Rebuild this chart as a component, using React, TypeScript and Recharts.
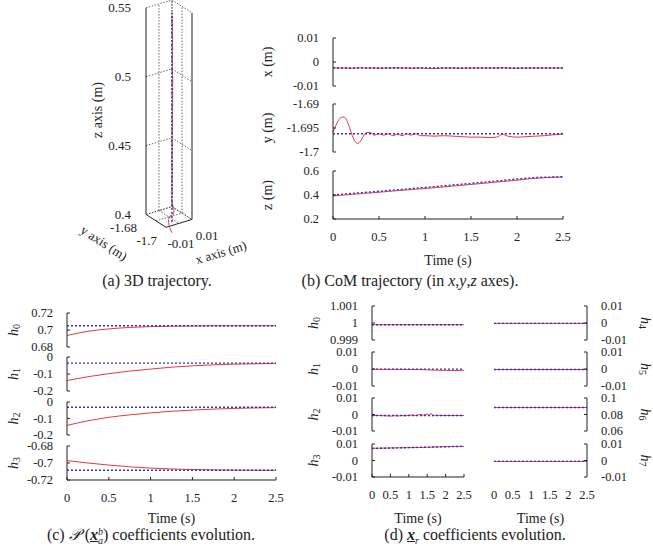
import React from "react";
import { LineChart, Line, XAxis, YAxis } from "recharts";

const FONT = "'Liberation Serif', 'Times New Roman', Times, serif";
const INK = "#222";
const RED = "#e8373c";
const BLUE = "#3030cc";
const GRID = "#444";
const TICK_SIZE = 12.5;

const TIME_TICKS = [0, 0.5, 1, 1.5, 2, 2.5];

// (b) CoM trajectory, measured
const COM_T = [0, 0.03, 0.06, 0.09, 0.12, 0.15, 0.18, 0.21, 0.24, 0.27, 0.3, 0.33, 0.36, 0.4, 0.45, 0.5, 0.55, 0.6, 0.65, 0.7, 0.75, 0.8, 0.85, 0.9, 0.95, 1.0, 1.1, 1.2, 1.3, 1.4, 1.5, 1.6, 1.7, 1.78, 1.84, 1.9, 2.0, 2.1, 2.2, 2.3, 2.4, 2.5];
const COM_X = [
  -0.0024, -0.0024, -0.0025, -0.0025, -0.0025,
  -0.0025, -0.0026, -0.0026, -0.0025, -0.0025,
  -0.0024, -0.0025, -0.0025, -0.0025, -0.0025,
  -0.0026, -0.0025, -0.0025, -0.0025, -0.0024,
  -0.0025, -0.0025, -0.0026, -0.0025, -0.0025,
  -0.0026, -0.0027, -0.0025, -0.0025, -0.0026,
  -0.0025, -0.0025, -0.0025, -0.0025, -0.0024,
  -0.0025, -0.0026, -0.0025, -0.0025, -0.0025,
  -0.0025, -0.0025,
];
const COM_Y = [
  -1.6958, -1.6945, -1.6934, -1.6928, -1.6927,
  -1.6934, -1.6949, -1.6966, -1.6978, -1.6982,
  -1.6977, -1.6967, -1.696, -1.6959, -1.6965,
  -1.6962, -1.6965, -1.6962, -1.6966, -1.6963,
  -1.6966, -1.6962, -1.6965, -1.6962, -1.6966,
  -1.6966, -1.6967, -1.6966, -1.6967, -1.6968,
  -1.6969, -1.6969, -1.697, -1.6969, -1.6963,
  -1.6967, -1.6969, -1.6968, -1.6967, -1.6966,
  -1.6964, -1.6963,
];
const COM_Z = [
  0.392, 0.394, 0.396, 0.398, 0.4,
  0.402, 0.404, 0.405, 0.407, 0.409,
  0.411, 0.413, 0.415, 0.417, 0.42,
  0.423, 0.426, 0.43, 0.433, 0.436,
  0.439, 0.442, 0.445, 0.448, 0.451,
  0.454, 0.461, 0.467, 0.474, 0.481,
  0.488, 0.495, 0.502, 0.508, 0.512,
  0.516, 0.524, 0.532, 0.539, 0.544,
  0.548, 0.55,
];
// (b) CoM trajectory, reference
const COM_REF_T = [0, 0.5, 1, 1.5, 2, 2.2, 2.5];
const COM_X_REF = [-0.0025, -0.0025, -0.0025, -0.0025, -0.0025, -0.0025, -0.0025];
const COM_Y_REF = [-1.6962, -1.6962, -1.6962, -1.6962, -1.6962, -1.6962, -1.6962];
const COM_Z_REF = [0.4, 0.431, 0.463, 0.497, 0.533, 0.546, 0.552];

const X_TICKS_B = [-0.01, 0, 0.01];
const Y_TICKS_B = [-1.7, -1.695, -1.69];
const Z_TICKS_B = [0.2, 0.4, 0.6];

// (a) 3D box
const X3_RANGE = [-0.01, 0.01];
const Y3_RANGE = [-1.68, -1.7];
const X3_TICKS = [-0.01, 0, 0.01];
const Y3_TICKS = [-1.68, -1.69, -1.7];
const Z3_TICKS = [0.4, 0.45, 0.5, 0.55];
const X3_LABELS = [-0.01, 0.01];
const Y3_LABELS = [-1.68, -1.7];

// (c) P(x) coefficients
const P_T = [0, 0.25, 0.5, 0.75, 1, 1.25, 1.5, 1.75, 2, 2.25, 2.5];
const REF_T = [0, 2.5];
const PH0 = [0.6935, 0.6985, 0.7013, 0.703, 0.704, 0.7045, 0.7047, 0.7048, 0.7049, 0.7049, 0.705];
const PH0_REF = [0.705, 0.705];
const PH1 = [-0.138, -0.116, -0.098, -0.083, -0.071, -0.06, -0.052, -0.046, -0.042, -0.04, -0.038];
const PH1_REF = [-0.036, -0.036];
const PH2 = [-0.142, -0.114, -0.093, -0.078, -0.066, -0.056, -0.049, -0.043, -0.039, -0.036, -0.034];
const PH2_REF = [-0.032, -0.032];
const PH3 = [-0.6972, -0.7, -0.7024, -0.7045, -0.706, -0.707, -0.7077, -0.7081, -0.7084, -0.7085, -0.7086];
const PH3_REF = [-0.7086, -0.7086];

// (d) x_r coefficients
const D2_T = [0, 0.2, 0.4, 0.5, 0.6, 0.7, 0.8, 0.9, 1.0, 1.1, 1.2, 1.3, 1.4, 1.5, 1.55, 1.6, 1.65, 1.7, 1.8, 2.0, 2.2, 2.5];
const DH0 = [0.9999, 0.9999];
const DH0_REF = [0.9999, 0.9999];
const DH1 = [-0.0002, -0.0002, -0.0002, -0.0002, -0.0003, -0.0003, -0.0005, -0.0007, -0.0008, -0.0009, -0.0007];
const DH1_REF = [-0.0001, -0.0001];
const DH2 = [-0.0006, -0.0006, -0.0008, -0.001, -0.0007, -0.0009, -0.0006, -0.0008, -0.0005, -0.0003, -0.0007, 0.0001, -0.0004, 0.0003, -0.0006, 0.0008, -0.0008, -0.0004, -0.0006, -0.0006, -0.0006, -0.0006];
const DH2_REF = [-0.0006, -0.0006];
const DH3 = [0.0074, 0.0075, 0.0076, 0.0077, 0.0078, 0.0079, 0.008, 0.0082, 0.0084, 0.0085, 0.0086];
const DH3_REF = [0.0073, 0.0086];
const DH4 = [-0.0002, -0.0002];
const DH5 = [-0.0003, -0.0003];
const DH6 = [0.0885, 0.0885];
const DH7 = [-0.0005, -0.0005];

const H1_TICKS = [0.999, 1, 1.001];
const SMALL_TICKS = [-0.01, 0, 0.01];
const H6_TICKS = [0.06, 0.08, 0.1];

type Pt = { t: number; v: number };
const pts = (ts: number[], vs: number[]): Pt[] => ts.map((t, i) => ({ t, v: vs[i] }));

const hTitle = (n: number) => [
  <tspan key="h" fontStyle="italic">h</tspan>,
  <tspan key="n" fontSize={10} dy={3}>{n}</tspan>,
];

type StripProps = {
  left: number;
  top: number;
  width: number;
  height: number;
  domain: [number, number];
  ticks: number[];
  act: Pt[];
  refLine: Pt[];
  side?: "left" | "right";
  title: React.ReactNode;
  titleGap: number;
  titleAngle?: number;
  timeAxis?: "line" | "bare";
  timeGap?: number;
};

function Strip({ left, top, width, height, domain, ticks, act, refLine, side = "left", title, titleGap, titleAngle = -90, timeAxis, timeGap = 40 }: StripProps) {
  const padL = side === "left" ? 90 : 20;
  const padR = side === "right" ? 90 : 20;
  const padT = 10;
  const padB = 60;
  const tickStyle = { fontSize: TICK_SIZE, fill: INK, fontFamily: FONT };
  return (
    <div style={{ position: "absolute", left: left - padL, top: top - padT }}>
      <LineChart
        width={padL + width + padR}
        height={padT + height + padB}
        margin={{ top: padT, bottom: timeAxis ? 0 : padB, left: side === "left" ? 0 : padL, right: side === "right" ? 0 : padR }}
      >
        <XAxis
          type="number"
          dataKey="t"
          domain={[0, 2.5]}
          ticks={TIME_TICKS}
          interval={0}
          hide={!timeAxis}
          height={padB}
          axisLine={timeAxis === "line" ? { stroke: INK } : false}
          tickLine={timeAxis === "line" ? { stroke: INK } : false}
          tickSize={-3}
          tickMargin={16}
          tick={tickStyle}
          label={(p: any) => (
            <text x={p.viewBox.x + p.viewBox.width / 2} y={p.viewBox.y + timeGap} textAnchor="middle" dominantBaseline="central" fontFamily={FONT} fontSize={14} fill={INK}>
              Time (s)
            </text>
          )}
        />
        <YAxis
          type="number"
          orientation={side}
          width={side === "left" ? padL : padR}
          domain={domain}
          ticks={ticks}
          interval={0}
          allowDataOverflow
          axisLine={{ stroke: INK }}
          tickLine={{ stroke: INK }}
          tickSize={-3}
          tickMargin={17}
          tick={tickStyle}
          label={(p: any) => {
            const vb = p.viewBox;
            const cx = side === "left" ? vb.x + vb.width - titleGap : vb.x + titleGap;
            const cy = vb.y + vb.height / 2;
            return (
              <text x={cx} y={cy} transform={`rotate(${titleAngle} ${cx} ${cy})`} textAnchor="middle" dominantBaseline="central" fontFamily={FONT} fontSize={14} fill={INK}>
                {title}
              </text>
            );
          }}
        />
        <Line data={act} dataKey="v" type="monotone" stroke={RED} strokeWidth={1} dot={false} isAnimationActive={false} />
        <Line data={refLine} dataKey="v" stroke={BLUE} strokeWidth={1.4} strokeDasharray="2 2" dot={false} isAnimationActive={false} />
      </LineChart>
    </div>
  );
}

// simple oblique camera for the 3D box (screen px per full box length)
const CAM = { ux: 26, uy: 20, vx: -8, vy: 13, zScale: 1400 };

function project(x: number, y: number, z: number) {
  const nx = (x - X3_RANGE[0]) / (X3_RANGE[1] - X3_RANGE[0]);
  const ny = (y - Y3_RANGE[0]) / (Y3_RANGE[1] - Y3_RANGE[0]);
  return { u: CAM.ux * nx + CAM.uy * ny, v: z - (CAM.vx * nx + CAM.vy * ny) / CAM.zScale };
}

function buildEdges() {
  const [x0, x1] = X3_RANGE;
  const [y0, y1] = Y3_RANGE;
  const z0 = Z3_TICKS[0];
  const zTop = Z3_TICKS[Z3_TICKS.length - 1];
  const seg = (a: number[], b: number[], solid = false) => ({
    pts: [project(a[0], a[1], a[2]), project(b[0], b[1], b[2])],
    solid,
  });
  const edges: { pts: { u: number; v: number }[]; solid: boolean }[] = [];
  Z3_TICKS.forEach((z) => {
    edges.push(seg([x0, y0, z], [x1, y0, z]));
    edges.push(seg([x1, y0, z], [x1, y1, z]));
  });
  X3_TICKS.forEach((x) => {
    edges.push(seg([x, y0, z0], [x, y0, zTop], x === x0));
    edges.push(seg([x, y0, z0], [x, y1, z0], x === x0));
  });
  Y3_TICKS.forEach((y) => {
    edges.push(seg([x1, y, z0], [x1, y, zTop], y === y1));
    edges.push(seg([x0, y, z0], [x1, y, z0], y === y1));
  });
  return edges;
}

const textDot = (dx: number, dy: number, anchor: "start" | "middle" | "end", angle = 0) => (p: any) => {
  const x = p.cx + dx;
  const y = p.cy + dy;
  return (
    <text key={`t${p.index}`} x={x} y={y} textAnchor={anchor} dominantBaseline="central" transform={angle ? `rotate(${angle} ${x} ${y})` : undefined} fontFamily={FONT} fontSize={13} fill={INK}>
      {p.payload.label}
    </text>
  );
};

function Trajectory3D() {
  const edges = buildEdges();
  const act = COM_T.map((_, i) => project(COM_X[i], COM_Y[i], COM_Z[i]));
  const ref = COM_REF_T.map((_, i) => project(COM_X_REF[i], COM_Y_REF[i], COM_Z_REF[i]));
  const z0 = Z3_TICKS[0];
  const yLab = Y3_LABELS.map((y) => ({ ...project(X3_RANGE[0], y, z0), label: String(y) }));
  const xLab = X3_LABELS.map((x) => ({ ...project(x, Y3_RANGE[1], z0), label: String(x) }));
  const yTitle = [{ ...project(X3_RANGE[0], (Y3_RANGE[0] + Y3_RANGE[1]) / 2, z0), label: "y axis (m)" }];
  const xTitle = [{ ...project((X3_RANGE[0] + X3_RANGE[1]) / 2, Y3_RANGE[1], z0), label: "x axis (m)" }];
  return (
    <div style={{ position: "absolute", left: 0, top: 0 }}>
      <LineChart width={260} height={270} margin={{ top: 0, right: 20, bottom: 24, left: 0 }}>
        <XAxis type="number" dataKey="u" domain={[0, 94]} hide />
        <YAxis
          type="number"
          width={146}
          domain={[0.55 - 242 / 1400, 0.55 + 4 / 1400]}
          ticks={Z3_TICKS}
          interval={0}
          axisLine={false}
          tickLine={false}
          tickSize={0}
          tickMargin={15}
          tick={{ fontSize: 13, fill: INK, fontFamily: FONT }}
          label={(p: any) => (
            <text x={p.viewBox.x + 97} y={110} transform={`rotate(-90 ${p.viewBox.x + 97} 110)`} textAnchor="middle" dominantBaseline="central" fontFamily={FONT} fontSize={14} fill={INK}>
              z axis (m)
            </text>
          )}
        />
        {edges.map((e, i) => (
          <Line
            key={`e${i}`}
            data={e.pts}
            dataKey="v"
            stroke={e.solid ? INK : GRID}
            strokeWidth={e.solid ? 1 : 0.8}
            strokeDasharray={e.solid ? undefined : "1.5 1.5"}
            dot={false}
            isAnimationActive={false}
          />
        ))}
        <Line data={act} dataKey="v" type="monotone" stroke={RED} strokeWidth={1} dot={false} isAnimationActive={false} />
        <Line data={ref} dataKey="v" stroke={BLUE} strokeWidth={1.4} strokeDasharray="2 2" dot={false} isAnimationActive={false} />
        <Line data={yLab} dataKey="v" stroke="none" dot={textDot(-9, 13, "end")} isAnimationActive={false} />
        <Line data={xLab} dataKey="v" stroke="none" dot={textDot(15, 16, "middle")} isAnimationActive={false} />
        <Line data={yTitle} dataKey="v" stroke="none" dot={textDot(-52, 22, "middle", 33)} isAnimationActive={false} />
        <Line data={xTitle} dataKey="v" stroke="none" dot={textDot(42, 29, "middle", -17)} isAnimationActive={false} />
      </LineChart>
    </div>
  );
}

const caption = (cx: number, cy: number): React.CSSProperties => ({
  position: "absolute",
  left: cx - 170,
  width: 340,
  top: cy - 9,
  textAlign: "center",
  fontSize: 16,
  lineHeight: "18px",
  fontFamily: FONT,
  color: INK,
  whiteSpace: "nowrap",
});

const vecX: React.CSSProperties = { fontWeight: 700, fontStyle: "italic", textDecoration: "underline" };

export default function App() {
  return (
    <div style={{ position: "absolute", left: 0, top: 0, width: 653, height: 546, background: "#fff", overflow: "hidden", fontFamily: FONT }}>
      <Trajectory3D />

      <Strip left={333} top={38} width={230} height={48} domain={[-0.01, 0.01]} ticks={X_TICKS_B} act={pts(COM_T, COM_X)} refLine={pts(COM_REF_T, COM_X_REF)} title="x (m)" titleGap={66} />
      <Strip left={333} top={104} width={230} height={48} domain={[-1.7, -1.69]} ticks={Y_TICKS_B} act={pts(COM_T, COM_Y)} refLine={pts(COM_REF_T, COM_Y_REF)} title="y (m)" titleGap={66} />
      <Strip left={333} top={171} width={230} height={48} domain={[0.2, 0.6]} ticks={Z_TICKS_B} act={pts(COM_T, COM_Z)} refLine={pts(COM_REF_T, COM_Z_REF)} title="z (m)" titleGap={66} timeAxis="line" timeGap={41} />

      <Strip left={67} top={313} width={209} height={34} domain={[0.68, 0.72]} ticks={[0.68, 0.7, 0.72]} act={pts(P_T, PH0)} refLine={pts(REF_T, PH0_REF)} title={hTitle(0)} titleGap={54} />
      <Strip left={67} top={357} width={209} height={34} domain={[-0.2, 0]} ticks={[-0.2, -0.1, 0]} act={pts(P_T, PH1)} refLine={pts(REF_T, PH1_REF)} title={hTitle(1)} titleGap={54} />
      <Strip left={67} top={402} width={209} height={33} domain={[-0.2, 0]} ticks={[-0.2, -0.1, 0]} act={pts(P_T, PH2)} refLine={pts(REF_T, PH2_REF)} title={hTitle(2)} titleGap={54} />
      <Strip left={67} top={446} width={209} height={34} domain={[-0.72, -0.68]} ticks={[-0.72, -0.7, -0.68]} act={pts(P_T, PH3)} refLine={pts(REF_T, PH3_REF)} title={hTitle(3)} titleGap={54} timeAxis="line" timeGap={38} />

      <Strip left={372} top={306} width={92} height={34} domain={[0.999, 1.001]} ticks={H1_TICKS} act={pts(REF_T, DH0)} refLine={pts(REF_T, DH0_REF)} title={hTitle(0)} titleGap={59} />
      <Strip left={372} top={352} width={92} height={34} domain={[-0.01, 0.01]} ticks={SMALL_TICKS} act={pts(P_T, DH1)} refLine={pts(REF_T, DH1_REF)} title={hTitle(1)} titleGap={59} />
      <Strip left={372} top={398} width={92} height={33} domain={[-0.01, 0.01]} ticks={SMALL_TICKS} act={pts(D2_T, DH2)} refLine={pts(REF_T, DH2_REF)} title={hTitle(2)} titleGap={59} />
      <Strip left={372} top={444} width={92} height={33} domain={[-0.01, 0.01]} ticks={SMALL_TICKS} act={pts(P_T, DH3)} refLine={pts(REF_T, DH3_REF)} title={hTitle(3)} titleGap={59} timeAxis="line" timeGap={41} />

      <Strip side="right" left={494} top={306} width={93} height={34} domain={[-0.01, 0.01]} ticks={SMALL_TICKS} act={pts(REF_T, DH4)} refLine={pts(REF_T, DH4)} title={hTitle(4)} titleGap={59} titleAngle={90} />
      <Strip side="right" left={494} top={352} width={93} height={34} domain={[-0.01, 0.01]} ticks={SMALL_TICKS} act={pts(REF_T, DH5)} refLine={pts(REF_T, DH5)} title={hTitle(5)} titleGap={59} titleAngle={90} />
      <Strip side="right" left={494} top={398} width={93} height={33} domain={[0.06, 0.1]} ticks={H6_TICKS} act={pts(REF_T, DH6)} refLine={pts(REF_T, DH6)} title={hTitle(6)} titleGap={59} titleAngle={90} />
      <Strip side="right" left={494} top={444} width={93} height={33} domain={[-0.01, 0.01]} ticks={SMALL_TICKS} act={pts(REF_T, DH7)} refLine={pts(REF_T, DH7)} title={hTitle(7)} titleGap={59} titleAngle={90} timeAxis="bare" timeGap={41} />

      <div style={caption(157, 281)}>(a) 3D trajectory.</div>
      <div style={caption(410, 281)}>
        (b) CoM trajectory (in <i>x</i>,<i>y</i>,<i>z</i> axes).
      </div>
      <div style={caption(151, 535)}>
        (c) <span style={{ fontFamily: "'DejaVu Serif', serif", fontStyle: "italic" }}>𝒫</span> (<span style={vecX}>x</span>
        <span style={{ display: "inline-flex", flexDirection: "column", fontSize: 10, lineHeight: "9px", verticalAlign: "middle", fontStyle: "italic" }}>
          <span>b</span>
          <span>a</span>
        </span>
        ) coefficients evolution.
      </div>
      <div style={caption(475, 535)}>
        (d) <span style={vecX}>x</span>
        <sub style={{ fontSize: 10, fontStyle: "italic", lineHeight: 0 }}>r</sub> coefficients evolution.
      </div>
    </div>
  );
}
